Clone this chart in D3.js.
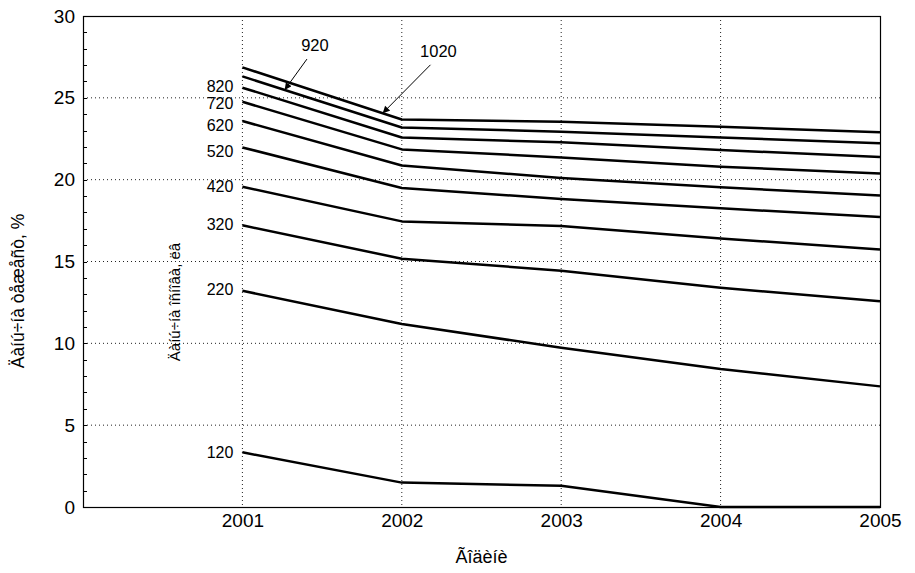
<!DOCTYPE html>
<html><head><meta charset="utf-8">
<script src="https://cdn.jsdelivr.net/npm/d3@7"></script>
<style>
body{margin:0;background:#fff;}
text{font-family:"Liberation Sans",Arial,sans-serif;fill:#000;}
</style></head>
<body><svg id="c" width="915" height="573"></svg>
<script>
const years = [2001, 2002, 2003, 2004, 2005];
const seriesNames = ["1020", "920", "820", "720", "620", "520", "420", "320", "220", "120"];
const s1020 = [26.86, 23.68, 23.54, 23.23, 22.89];
const s920  = [26.31, 23.19, 22.93, 22.58, 22.22];
const s820  = [25.62, 22.58, 22.28, 21.81, 21.38];
const s720  = [24.76, 21.85, 21.36, 20.79, 20.38];
const s620  = [23.58, 20.87, 20.10, 19.53, 19.04];
const s520  = [21.97, 19.49, 18.82, 18.25, 17.72];
const s420  = [19.57, 17.45, 17.17, 16.41, 15.74];
const s320  = [17.21, 15.17, 14.44, 13.40, 12.57];
const s220  = [13.21, 11.18, 9.73, 8.43, 7.37];
const s120  = [3.34, 1.49, 1.30, 0, 0];
const seriesValues = [s1020, s920, s820, s720, s620, s520, s420, s320, s220, s120];
const yTicks = [0, 5, 10, 15, 20, 25, 30];
const xTicks = [2001, 2002, 2003, 2004, 2005];
const yTitle = "Äàíú÷íà òåæåñò, %";
const xTitle = "Ãîäèíè";
const innerTitle = "Äàíú÷íà îñíîâà, ëâ";
// arrow-annotated series (label position and arrow target in data units)
const arrowSeries = ["920", "1020"];
const arrowLabelAt = [[2001.455, 28.1], [2002.23, 27.75]];
const arrowTargetYear = [2001.265, 2001.88];
// vertical nudges (px) of the left labels to keep them apart
const labelNudge = {"820": 0, "720": 3, "620": 6, "520": 5, "420": 1, "320": 0, "220": 0, "120": 1};

const svg = d3.select("#c");
const L = 83, R = 880, T = 16, B = 507;
const x = d3.scaleLinear().domain([2000, 2005]).range([L, R]);
const y = d3.scaleLinear().domain([0, 30]).range([B, T]);

// grid
const grid = svg.append("g").attr("stroke", "#222").attr("stroke-width", 1).attr("stroke-dasharray", "1,3");
yTicks.filter(v => v > 0 && v < 30).forEach(v => grid.append("line").attr("x1", L).attr("x2", R).attr("y1", y(v)).attr("y2", y(v)));
xTicks.filter(v => v < 2005).forEach(v => grid.append("line").attr("x1", x(v)).attr("x2", x(v)).attr("y1", T).attr("y2", B));

// minor ticks on left axis
const minor = d3.range(0, 31, 1);
const mt = svg.append("g").attr("stroke", "#000").attr("stroke-width", 1);
minor.forEach(v => {
  mt.append("line").attr("x1", L).attr("x2", L + 4).attr("y1", Math.round(y(v)) + 0.5).attr("y2", Math.round(y(v)) + 0.5);
});

// frame
svg.append("rect").attr("x", L + 0.5).attr("y", T + 0.5).attr("width", R - L).attr("height", B - T)
  .attr("fill", "none").attr("stroke", "#000").attr("stroke-width", 1.2);

// axes labels
const yAx = d3.axisLeft(y).tickValues(yTicks).tickSize(0).tickPadding(8);
svg.append("g").attr("transform", `translate(${L},0)`).call(yAx)
  .call(g => g.select(".domain").remove())
  .selectAll("text").style("font-size", "19px").style("font-family", "Liberation Sans, Arial, sans-serif").attr("fill", "#000");
const xAx = d3.axisBottom(x).tickValues(xTicks).tickFormat(d3.format("d")).tickSize(0).tickPadding(7);
svg.append("g").attr("transform", `translate(0,${B})`).call(xAx)
  .call(g => g.select(".domain").remove())
  .selectAll("text").style("font-size", "19px").style("font-family", "Liberation Sans, Arial, sans-serif").attr("fill", "#000");

// lines
const line = d3.line().x((d, i) => x(years[i])).y(d => y(d));
svg.append("g").selectAll("path").data(seriesValues).join("path")
  .attr("d", d => line(d)).attr("fill", "none").attr("stroke", "#000").attr("stroke-width", 2.5)
  .attr("stroke-linejoin", "round");

// left labels
seriesNames.forEach((n, i) => {
  if (arrowSeries.includes(n)) return;
  svg.append("text").attr("x", x(years[0]) - 9).attr("y", y(seriesValues[i][0]) + (labelNudge[n] || 0))
    .attr("text-anchor", "end").attr("dominant-baseline", "middle").style("font-size", "16px").text(n);
});

// arrow annotations
const defs = svg.append("defs");
defs.append("marker").attr("id", "ah").attr("viewBox", "0 0 10 10").attr("refX", 10).attr("refY", 5)
  .attr("markerWidth", 9).attr("markerHeight", 7).attr("markerUnits", "userSpaceOnUse").attr("orient", "auto")
  .append("path").attr("d", "M0,0 L10,5 L0,10 z").attr("fill", "#000");
arrowSeries.forEach((n, k) => {
  const vals = seriesValues[seriesNames.indexOf(n)];
  const tx = arrowTargetYear[k];
  const ty = d3.scaleLinear().domain(years).range(vals)(tx);
  const lx = x(arrowLabelAt[k][0]), ly = y(arrowLabelAt[k][1]);
  svg.append("text").attr("x", lx).attr("y", ly).attr("text-anchor", "middle").attr("dominant-baseline", "middle")
    .style("font-size", "16.5px").text(n);
  svg.append("line").attr("x1", lx - 8).attr("y1", ly + 12).attr("x2", x(tx)).attr("y2", y(ty))
    .attr("stroke", "#000").attr("stroke-width", 1).attr("marker-end", "url(#ah)");
});

// titles
svg.append("text").attr("transform", `translate(24,291) rotate(-90)`).attr("text-anchor", "middle")
  .style("font-size", "17.5px").text(yTitle);
svg.append("text").attr("x", (L + R) / 2).attr("y", 563).attr("text-anchor", "middle")
  .style("font-size", "18px").text(xTitle);
svg.append("text").attr("transform", `translate(180,302) rotate(-90)`).attr("text-anchor", "middle")
  .style("font-size", "15px").text(innerTitle);
</script></body></html>
